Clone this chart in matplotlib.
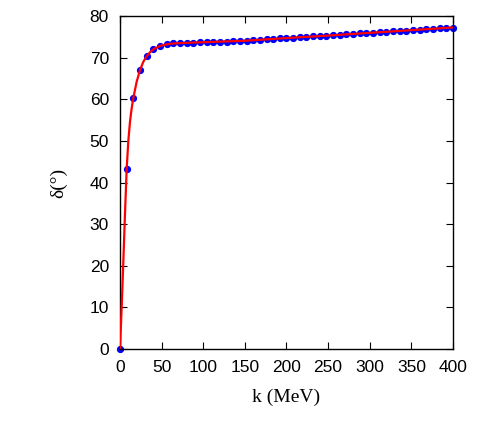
import numpy as np
import matplotlib
matplotlib.use("Agg")
import matplotlib.pyplot as plt

# phase shift data
k_data = [0, 8, 16, 24, 32, 40, 48, 56, 64, 72, 80, 88, 96, 104, 112, 120, 128,
          136, 144, 152, 160, 168, 176, 184, 192, 200, 208, 216, 224, 232, 240,
          248, 256, 264, 272, 280, 288, 296, 304, 312, 320, 328, 336, 344, 352,
          360, 368, 376, 384, 392, 400]
delta_data = [0.0, 43.2, 60.3, 67.0, 70.3, 72.0, 72.8, 73.2, 73.4, 73.5, 73.55,
              73.6, 73.65, 73.7, 73.75, 73.8, 73.85, 73.9, 74.0, 74.1, 74.2,
              74.3, 74.4, 74.5, 74.6, 74.7, 74.8, 74.9, 75.0, 75.1, 75.2, 75.3,
              75.4, 75.5, 75.6, 75.7, 75.8, 75.9, 76.0, 76.1, 76.2, 76.3, 76.4,
              76.5, 76.6, 76.7, 76.8, 76.9, 77.0, 77.1, 77.2]

# fitted curve (red)
k_fit = [0, 2, 4, 6, 8, 10, 12, 14, 16, 20, 24, 28, 32, 36, 40, 48,
         56, 64, 80, 100, 150, 200, 250, 300, 350, 400]
delta_fit = [0.0, 10.0, 21.0, 32.5, 43.2, 50.0, 54.6, 57.8, 60.3, 64.2, 67.0,
             69.0, 70.3, 71.3, 72.0, 72.8, 73.2, 73.4, 73.55, 73.7, 74.05,
             74.7, 75.3, 75.95, 76.6, 77.25]

fig = plt.figure(figsize=(4.91, 4.36), dpi=100)
ax = fig.add_axes([0.2444, 0.1995, 0.6782, 0.7638])

ax.plot(k_data, delta_data, 'o', color='blue', markersize=4.2, clip_on=False, zorder=2)
ax.plot(k_fit, delta_fit, '-', color='red', lw=1.6, zorder=3)

ax.set_xlim(0, 400)
ax.set_ylim(0, 80)
ax.set_xticks(np.arange(0, 401, 50))
ax.set_yticks(np.arange(0, 81, 10))
ax.tick_params(direction='in', top=True, right=True, length=5, width=0.8,
               labelsize=12.5, pad=8)
for lab in ax.get_xticklabels() + ax.get_yticklabels():
    lab.set_family('Liberation Sans')
for s in ax.spines.values():
    s.set_linewidth(1.0)

ax.set_xlabel('k (MeV)', family='Liberation Serif', fontsize=14, labelpad=10)
ax.set_ylabel('δ(°)', family='Liberation Serif', fontsize=14, labelpad=16)

plt.savefig('out.png', dpi=100)
